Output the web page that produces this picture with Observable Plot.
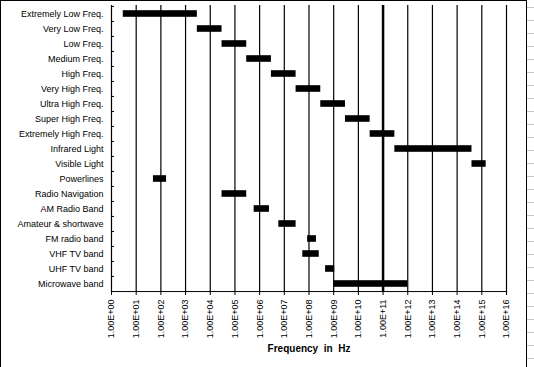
<!DOCTYPE html>
<html>
<head>
<meta charset="utf-8">
<script src="https://cdn.jsdelivr.net/npm/d3@7"></script>
<script src="https://cdn.jsdelivr.net/npm/@observablehq/plot@0.6"></script>
<style>
  html, body { margin: 0; padding: 0; background: #fff; }
  #wrap { position: relative; width: 534px; height: 367px; overflow: hidden; }
  #frame { position: absolute; left: 0; top: 0; width: 527px; height: 367px; box-sizing: border-box;
           border-left: 1px solid #000; border-top: 1px solid #000; border-right: 1px solid #000; pointer-events: none; }
  #side { position: absolute; left: 527px; top: 0; width: 7px; height: 367px;
          background: repeating-linear-gradient(to bottom, transparent 0, transparent 7px, #c8c8c8 7px, #c8c8c8 8px, transparent 8px, transparent 13px); }
  #chart { position: absolute; left: 0; top: 0; }
</style>
</head>
<body>
<div id="wrap">
  <div id="chart"></div>
  <div id="frame"></div>
  <div id="side"></div>
</div>
<script>
const categories = [
  "Extremely Low Freq.", "Very Low Freq.", "Low Freq.", "Medium Freq.", "High Freq.",
  "Very High Freq.", "Ultra High Freq.", "Super High Freq.", "Extremely High Freq.",
  "Infrared Light", "Visible Light", "Powerlines", "Radio Navigation", "AM Radio Band",
  "Amateur & shortwave", "FM radio band", "VHF TV band", "UHF TV band", "Microwave band"
];
const lows  = [3, 3e3, 3e4, 3e5, 3e6, 3e7, 3e8, 3e9, 3e10, 3e11, 4e14, 50, 3e4, 6e5, 6e6, 8.8e7, 5.6e7, 4.7e8, 1e9];
const highs = [3e3, 3e4, 3e5, 3e6, 3e7, 3e8, 3e9, 3e10, 3e11, 4e14, 1.5e15, 170, 3e5, 2.5e6, 3e7, 2e8, 2.6e8, 1.1e9, 1e12];
const decades = [1e0, 1e1, 1e2, 1e3, 1e4, 1e5, 1e6, 1e7, 1e8, 1e9, 1e10, 1e11, 1e12, 1e13, 1e14, 1e15, 1e16];
const tickLabels = ["1.00E+00","1.00E+01","1.00E+02","1.00E+03","1.00E+04","1.00E+05","1.00E+06","1.00E+07","1.00E+08",
  "1.00E+09","1.00E+10","1.00E+11","1.00E+12","1.00E+13","1.00E+14","1.00E+15","1.00E+16"];
const xTitle = "Frequency  in  Hz";

const data = categories.map((c, i) => ({category: c, low: lows[i], high: highs[i]}));
const band = (292 - 5) / categories.length;
const labelOf = d => tickLabels[decades.findIndex(v => Math.abs(Math.log10(v) - Math.log10(d)) < 1e-6)];

const chart = Plot.plot({
  width: 534,
  height: 367,
  marginLeft: 111,
  marginRight: 28,
  marginTop: 5,
  marginBottom: 75,
  style: {fontFamily: "'Liberation Sans', Arial, sans-serif", fontSize: "9px", color: "#000", background: "transparent"},
  x: {type: "log", domain: [1, 1e16]},
  y: {domain: categories, padding: 0},
  marks: [
    Plot.ruleX(decades, {stroke: "#000", strokeWidth: d => d === 1e11 ? 2.5 : 1.2}),
    Plot.barX(data, {x1: "low", x2: "high", y: "category", fill: "#000", insetTop: 4.2, insetBottom: 4.2}),
    Plot.axisY({tickSize: 0, tickPadding: 8, label: null}),
    Plot.axisY({tickSize: -3, text: null, dy: -band / 2, label: null}),
    Plot.ruleY([categories[categories.length - 1]], {dy: band / 2, stroke: "#000"}),
    Plot.axisX({ticks: decades, tickFormat: labelOf, tickRotate: -90, tickSize: 3, tickPadding: 4, label: null, fontSize: 9}),
    Plot.text([xTitle], {text: d => d, frameAnchor: "bottom", dy: 59, fontWeight: "bold", fontSize: 10})
  ]
});
document.getElementById("chart").appendChild(chart);
</script>
</body>
</html>
